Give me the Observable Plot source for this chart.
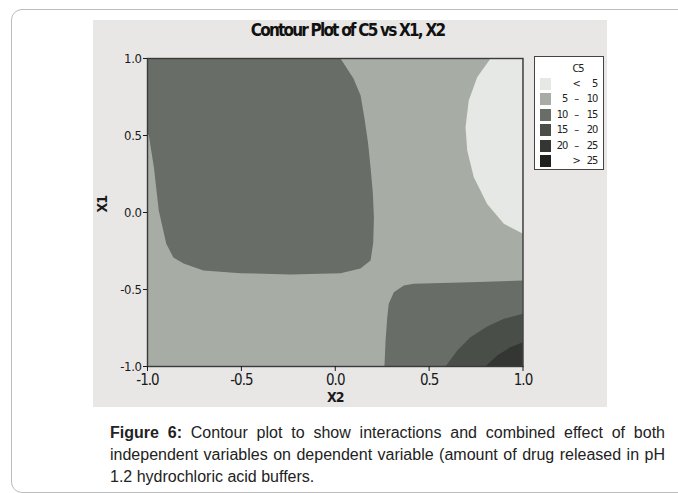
<!DOCTYPE html>
<html>
<head>
<meta charset="utf-8">
<script src="https://cdn.jsdelivr.net/npm/d3@7"></script>
<script src="https://cdn.jsdelivr.net/npm/@observablehq/plot@0.6"></script>
<style>
  html, body { margin: 0; padding: 0; background: #fff; }
  body { width: 678px; height: 493px; position: relative; overflow: hidden;
         font-family: "DejaVu Sans Condensed", "DejaVu Sans", sans-serif; }
  .card { position: absolute; left: 11px; top: 9px; width: 720px; height: 484px;
          border: 1.5px solid #bcbcbc; border-radius: 11px; box-sizing: border-box; }
  .panel { position: absolute; left: 93px; top: 20px; width: 514px; height: 387px; background: #e8e7e6; }
  .panel svg { position: absolute; left: 0; top: 0; }
  .title { position: absolute; left: 0; top: 2px; width: 509px; text-align: center;
           font-weight: bold; font-size: 17px; line-height: 17px; letter-spacing: -1.8px; color: #111; }
  .legend { position: absolute; left: 441px; top: 36px; width: 70px; height: 114px;
            background: #fff; border: 1px solid #444; box-sizing: border-box;
            font-size: 11px; letter-spacing: -1.2px; color: #222; }
  .legend .head { position: absolute; left: 32px; top: 5px; width: 22px; text-align: center; }
  .legend .sw { position: absolute; left: 5px; width: 11px; height: 12px; }
  .legend .lo { position: absolute; right: 36px; text-align: right; }
  .legend .op { position: absolute; left: 37px; width: 8px; text-align: center; }
  .legend .hi { position: absolute; right: 6px; text-align: right; }
  .caption { position: absolute; left: 110px; top: 422px; width: 555px;
             font-family: "Liberation Sans", Arial, sans-serif;
             font-size: 16px; line-height: 22px; color: #222; }
  .caption .j { text-align: justify; text-align-last: justify; }
  svg [aria-label="x-axis tick label"] text { letter-spacing: -1px; }
  svg [aria-label="y-axis tick label"] text { letter-spacing: -0.4px; }
  svg [aria-label="text"] text { letter-spacing: -1px; }
</style>
</head>
<body>
<div class="card"></div>
<div class="panel" id="panel">
  <div class="title">Contour Plot of C5 vs X1, X2</div>
</div>
<div class="caption">
  <div class="j"><b>Figure 6:</b> Contour plot to show interactions and combined effect of both</div>
  <div class="j">independent variables on dependent variable (amount of drug released in pH</div>
  <div>1.2 hydrochloric acid buffers.</div>
</div>
<script>
// Axis ticks
const xTicks = [-1, -0.5, 0, 0.5, 1];
const yTicks = [-1, -0.5, 0, 0.5, 1];

// C5 contour levels and their shades
const levels = ["< 5", "5 – 10", "10 – 15", "15 – 20", "20 – 25", "> 25"];
const shades = ["#e6e8e5", "#a7aca5", "#686d67", "#4a4e49", "#333632", "#1e211d"];
const legendLo = ["", "5", "10", "15", "20", ""];
const legendOp = ["<", "–", "–", "–", "–", ">"];
const legendHi = ["5", "10", "15", "20", "25", "25"];

// Contour boundaries as [X2, X1] vertices
const lowTopRight = [
  [0.827, 1], [0.756, 0.879], [0.711, 0.727], [0.694, 0.554], [0.703, 0.403],
  [0.738, 0.229], [0.809, 0.056], [0.898, -0.073], [1, -0.138], [1, 1]
];
const band10TopLeft = [
  [-1, 1], [0.028, 1], [0.097, 0.87], [0.135, 0.76], [0.155, 0.617], [0.175, 0.45],
  [0.188, 0.292], [0.2, 0.13], [0.206, -0.032], [0.202, -0.2], [0.188, -0.312],
  [0.134, -0.364], [0.028, -0.394], [-0.238, -0.403], [-0.505, -0.394], [-0.702, -0.377],
  [-0.808, -0.331], [-0.862, -0.292], [-0.9, -0.203], [-0.94, 0.013], [-0.966, 0.294],
  [-0.993, 0.5], [-1, 0.513]
];
const band10BottomRight = [
  [0.262, -1], [0.268, -0.831], [0.277, -0.68], [0.285, -0.593], [0.312, -0.518],
  [0.365, -0.474], [0.418, -0.463], [0.72, -0.453], [1, -0.442], [1, -1]
];
const band15BottomRight = [
  [0.587, -1], [0.65, -0.896], [0.72, -0.81], [0.809, -0.74], [0.898, -0.69], [1, -0.658], [1, -1]
];
const band20BottomRight = [
  [0.8, -1], [0.863, -0.929], [0.933, -0.875], [1, -0.842], [1, -1]
];

const regions = [
  {level: levels[0], points: lowTopRight},
  {level: levels[2], points: band10TopLeft},
  {level: levels[2], points: band10BottomRight},
  {level: levels[3], points: band15BottomRight},
  {level: levels[4], points: band20BottomRight}
];
const rows = regions.flatMap((r, i) => r.points.map(([x, y]) => ({region: i, level: r.level, x, y})));

const fmt = d => d.toFixed(1);
const fontFamily = '"DejaVu Sans Condensed", "DejaVu Sans", sans-serif';

const chart = Plot.plot({
  width: 514,
  height: 387,
  marginLeft: 54,
  marginRight: 84.5,
  marginTop: 38,
  marginBottom: 41,
  style: {background: "transparent", color: "#1a1a1a", fontFamily, overflow: "visible"},
  x: {domain: [-1, 1]},
  y: {domain: [-1, 1]},
  color: {domain: levels, range: shades},
  marks: [
    // the 5 – 10 level fills the whole region
    Plot.frame({fill: shades[1], stroke: "none"}),
    Plot.line(rows, {x: "x", y: "y", z: "region", fill: "level", stroke: "none", curve: "linear-closed", clip: true}),
    Plot.frame({stroke: "#3a3a3a", strokeWidth: 1.4}),
    Plot.axisX({ticks: xTicks, tickFormat: fmt, tickSize: 5, tickPadding: 3, fontSize: 15, label: null}),
    Plot.axisY({ticks: yTicks, tickFormat: fmt, tickSize: 4, tickPadding: 2, fontSize: 13, label: null}),
    Plot.text(["X2"], {frameAnchor: "bottom", dy: 35, text: d => d, fontWeight: "bold", fontSize: 14}),
    Plot.text(["X1"], {frameAnchor: "left", dx: -44.5, rotate: -90, text: d => d, fontWeight: "bold", fontSize: 14})
  ]
});
document.getElementById("panel").appendChild(chart);

// Legend box
const legend = document.createElement("div");
legend.className = "legend";
legend.innerHTML = `<div class="head">C5</div>` + levels.map((lv, i) => {
  const top = 21 + i * 15.4;
  return `<div class="sw" style="top:${top}px;background:${shades[i]}"></div>` +
    `<span class="lo" style="top:${top - 1}px">${legendLo[i]}</span>` +
    `<span class="op" style="top:${top - 1}px">${legendOp[i]}</span>` +
    `<span class="hi" style="top:${top - 1}px">${legendHi[i]}</span>`;
}).join("");
document.getElementById("panel").appendChild(legend);
</script>
</body>
</html>
